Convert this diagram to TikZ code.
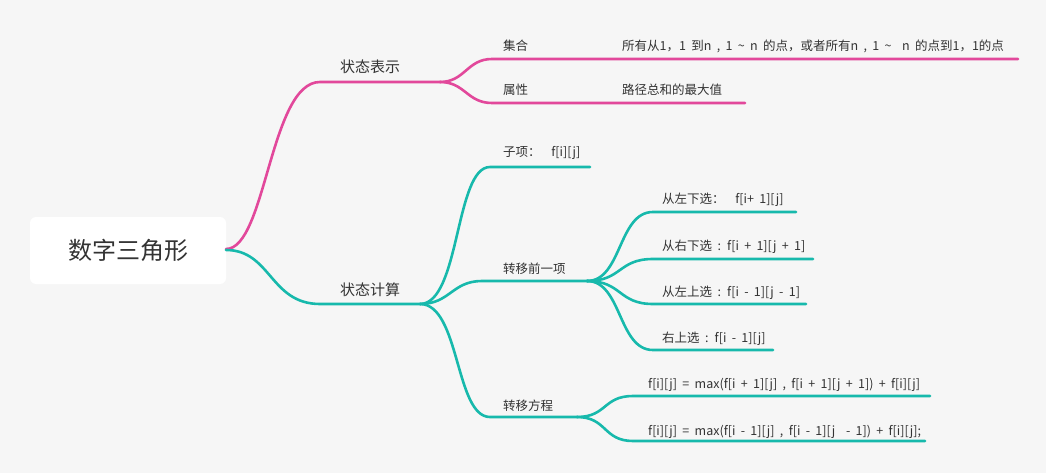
\documentclass[tikz,border=0pt]{standalone}
\usepackage{fontspec}
\setmainfont{Noto Sans CJK SC}
\newfontfamily\leaffont[WordSpace=1.9]{Noto Sans CJK SC}
\definecolor{bg}{HTML}{F6F6F6}
\definecolor{pk}{HTML}{E2489B}
\definecolor{tl}{HTML}{17B9AC}
\definecolor{txt}{HTML}{333333}
\begin{document}
\begin{tikzpicture}[x=1pt,y=-1pt,
  pinkline/.style={draw=pk,line width=2.6pt,line cap=round},
  tealline/.style={draw=tl,line width=2.6pt,line cap=round},
  leaf/.style={anchor=base west,inner sep=0pt,text=txt,font=\leaffont\fontsize{12.5}{14}\selectfont},
  mainlabel/.style={anchor=base west,inner sep=0pt,text=txt,font=\fontsize{15}{17}\selectfont},
  rootbox/.style={fill=white,rounded corners=6pt,minimum width=196pt,minimum height=67pt,inner sep=0pt,text=txt,font=\fontsize{24}{28}\selectfont}]
\fill[bg] (0,0) rectangle (1046,473);
\useasboundingbox (0,0) rectangle (1046,473);

\node[rootbox] (root) at (128,250.5) {数字三角形};

% coordinates
\coordinate (r) at (226,249);
\coordinate (a1) at (320,82); \coordinate (a2) at (440,82);
\coordinate (b1) at (492,59); \coordinate (b2) at (1018,59);
\coordinate (c1) at (492,103); \coordinate (c2) at (745,103);
\coordinate (rt) at (226,250);
\coordinate (d1) at (320,304); \coordinate (d2) at (420,304);
\coordinate (e1) at (490,167); \coordinate (e2) at (590,167);
\coordinate (f1) at (482,281); \coordinate (f2) at (587,281);
\coordinate (g1) at (653,212); \coordinate (g2) at (796,212);
\coordinate (h1) at (653,259); \coordinate (h2) at (813,259);
\coordinate (i1) at (653,304); \coordinate (i2) at (806,304);
\coordinate (j1) at (653,350); \coordinate (j2) at (773,350);
\coordinate (k1) at (490,417); \coordinate (k2) at (577,417);
\coordinate (l1) at (633,396); \coordinate (l2) at (930,396);
\coordinate (m1) at (633,441); \coordinate (m2) at (925,441);

% pink branch
\draw[pinkline] (r) .. controls +(40,0) and +(-50,0) .. (a1) -- (a2);
\draw[pinkline] (a2) .. controls +(25,0) and +(-25,0) .. (b1) -- (b2);
\draw[pinkline] (a2) .. controls +(25,0) and +(-25,0) .. (c1) -- (c2);

% teal branch
\draw[tealline] (rt) .. controls +(45,0) and +(-50,0) .. (d1) -- (d2);
\draw[tealline] (d2) .. controls +(40,0) and +(-35,0) .. (e1) -- (e2);
\draw[tealline] (d2) .. controls +(30,0) and +(-30,0) .. (f1) -- (f2);
\draw[tealline] (d2) .. controls +(40,0) and +(-35,0) .. (k1) -- (k2);
\draw[tealline] (f2) .. controls +(35,0) and +(-35,0) .. (g1) -- (g2);
\draw[tealline] (f2) .. controls +(35,0) and +(-35,0) .. (h1) -- (h2);
\draw[tealline] (f2) .. controls +(35,0) and +(-35,0) .. (i1) -- (i2);
\draw[tealline] (f2) .. controls +(35,0) and +(-35,0) .. (j1) -- (j2);
\draw[tealline] (k2) .. controls +(30,0) and +(-30,0) .. (l1) -- (l2);
\draw[tealline] (k2) .. controls +(30,0) and +(-30,0) .. (m1) -- (m2);

% labels
\node[mainlabel] (s1) at (340,73) {状态表示};
\node[mainlabel] (s2) at (340,295) {状态计算};
\node[leaf] (n1) at (503,51) {集合};
\node[leaf] (n1v) at (622,51) {所有从1，1 到n , 1 \textasciitilde{} n 的点，或者所有n , 1 \textasciitilde{} \ n 的点到1，1的点};
\node[leaf] (n2) at (503,95) {属性};
\node[leaf] (n2v) at (622,95) {路径总和的最大值};
\node[leaf] (t1) at (503,157) {子项： \ f[i][j]};
\node[leaf] (t2) at (503,273) {转移前一项};
\node[leaf] (t3) at (503,410) {转移方程};
\node[leaf] (u1) at (662,204) {从左下选： \ f[i+ 1][j]};
\node[leaf] (u2) at (662,250) {从右下选 : f[i + 1][j + 1]};
\node[leaf] (u3) at (662,296) {从左上选 : f[i - 1][j - 1]};
\node[leaf] (u4) at (662,342) {右上选 : f[i - 1][j]};
\node[leaf] (v1) at (648,388) {f[i][j] = max(f[i + 1][j] , f[i + 1][j + 1]) + f[i][j]};
\node[leaf] (v2) at (648,435) {f[i][j] = max(f[i - 1][j] , f[i - 1][j \ - 1]) + f[i][j];};
\end{tikzpicture}
\end{document}
